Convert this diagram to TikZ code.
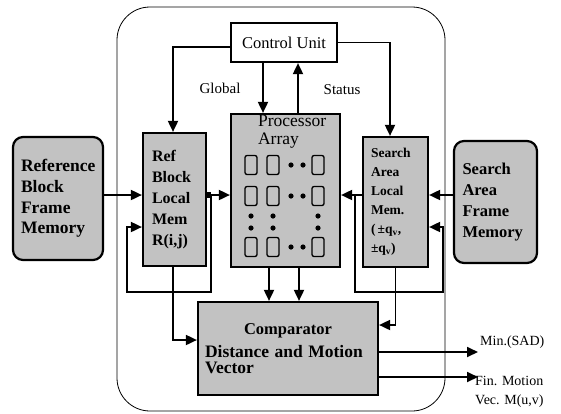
\documentclass[tikz,border=0pt]{standalone}
\usepackage{fontspec}
\setmainfont{Liberation Serif}
\usepackage{tikz}
\usetikzlibrary{arrows.meta, positioning, calc}

\definecolor{memgray}{gray}{0.76}
\newcommand{\txtsize}[2]{\fontsize{#1}{#2}\selectfont}

\tikzset{
  box/.style={draw, line width=2.2pt, inner sep=0pt},
  mem/.style={box, fill=memgray, align=left, font=\bfseries\txtsize{16}{21}},
  framemem/.style={mem, rounded corners=10pt},
  flow/.style={line width=1.8pt, -{Triangle[length=11pt,width=10pt]}},
  cell/.style={draw, line width=1.3pt, rounded corners=2pt, minimum width=12pt, minimum height=19pt, inner sep=0pt},
  lbl/.style={font=\txtsize{15}{18}, inner sep=0pt},
}

\begin{document}
\begin{tikzpicture}[x=1pt, y=-1pt]
\useasboundingbox (0,0) rectangle (561,413);

% chip outline
\draw[line width=0.8pt, rounded corners=33pt] (117,7) rectangle (445,411);

% blocks
\node[box, fill=white, minimum width=106pt, minimum height=39pt, font=\txtsize{16.5}{20}] (ctrl) at (284,42.5) {Control Unit};
\node[mem, minimum width=63pt, minimum height=133pt, text width=45pt] (refmem) at (174.5,199.5) {Ref\\Block\\Local\\Mem\\R(i,j)};
\node[box, fill=memgray, minimum width=109pt, minimum height=153pt] (pa) at (285.5,190.5) {};
\node[font=\txtsize{17.5}{18}, align=left, inner sep=0pt, below right=2pt and 28pt of pa.north west] (patext) {Processor\\Array};
\node[mem, minimum width=65pt, minimum height=130pt, text width=49pt, font=\bfseries\txtsize{13.5}{19}] (samem) at (395.5,202) {Search\\Area\\Local\\Mem.\\(\,±q\textsubscript{v},\\±q\textsubscript{v})};
\node[framemem, minimum width=90pt, minimum height=123pt, text width=74pt, font=\bfseries\txtsize{17.5}{20.7}] (refframe) at (58,198.5) {Reference\\Block\\Frame\\Memory};
\node[framemem, minimum width=83pt, minimum height=122pt, text width=66pt, font=\bfseries\txtsize{16.5}{20.7}] (saframe) at (495.5,202) {Search\\Area\\Frame\\Memory};
\node[mem, minimum width=180pt, minimum height=93pt, text width=166pt, font=\bfseries\txtsize{16.5}{16}] (comp) at (288,348.5) {\makebox[\linewidth]{Comparator}\\[7pt]\txtsize{17.5}{16}Distance and Motion\\Vector};

% processing elements
\foreach \cx/\cn in {251/a,273/b,318/c}
  \foreach \cy/\rn in {165/1,196/2,247/3}
    \node[cell] (pe\cn\rn) at (\cx,\cy) {};
\foreach \cy in {165,196,247} {
  \fill (291,\cy) circle (2.6pt);
  \fill (303,\cy) circle (2.6pt);
}
\foreach \cx in {251,273,318} {
  \fill (\cx,216) circle (2.6pt);
  \fill (\cx,228) circle (2.6pt);
}

% rails
\coordinate (yin) at (0,195);
\coordinate (yfb) at (0,227);
\coordinate (ltap) at (211,195);
\coordinate (lbot) at (127,292);
\coordinate (rtap) at (355,195);
\coordinate (rbot) at (443,292);
\coordinate (cdn) at (263,0);
\coordinate (cup) at (298,0);
\coordinate (o1) at (269,0);
\coordinate (o2) at (299,0);
\coordinate (minout) at (478,352);
\coordinate (vecout) at (478,377);

% control lines
\draw[flow] ([yshift=-4.5pt]ctrl.west) -| ([xshift=-1.5pt]refmem.north);
\draw[flow] (ctrl.east) -| ([xshift=-5.5pt]samem.north);
\draw[flow] (ctrl.south -| cdn) -- (pa.north -| cdn);
\draw[flow] (pa.north -| cup) -- (ctrl.south -| cup);
\node[lbl] (global) at (220,88) {Global};
\node[lbl] (status) at (342,90) {Status};

% data into the array
\draw[flow] (refframe.east |- yin) -- (refmem.west |- yin);
\draw[line width=6pt] (refmem.east |- yin) -- (ltap);
\draw[flow] (refmem.east |- yin) -- (pa.west |- yin);
\draw[flow] (ltap) |- (lbot) |- (refmem.west |- yfb);
\draw[flow] (saframe.west |- yin) -- (samem.east |- yin);
\draw[line width=6pt] ([xshift=8pt]rtap) -- (samem.west |- yin);
\draw[flow] (samem.west |- yin) -- (pa.east |- yin);
\draw[flow] (rtap) |- (rbot) |- (samem.east |- yfb);

% into the comparator
\draw[flow] (pa.south -| o1) -- (comp.north -| o1);
\draw[flow] (pa.south -| o2) -- (comp.north -| o2);
\draw[flow] ([xshift=-1.5pt]refmem.south) |- ([yshift=8.5pt]comp.west);
\draw[flow] (samem.south) |- ([yshift=23.5pt]comp.east);

% results
\draw[flow] (comp.east |- minout) -- (minout);
\draw[flow] (comp.east |- vecout) -- (vecout);
\node[lbl, anchor=west, font=\txtsize{14}{18}] (minlbl) at (480,342) {Min.(SAD)};
\node[lbl, anchor=west, align=left, font=\txtsize{14}{19}] (veclbl) at (475,392) {Fin. Motion\\Vec. M(u,v)};
\end{tikzpicture}
\end{document}
